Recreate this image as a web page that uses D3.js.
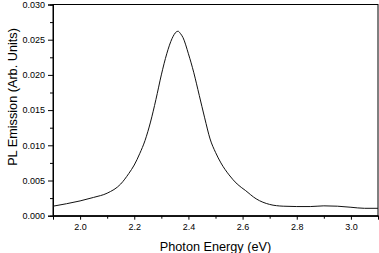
<!DOCTYPE html>
<html><head><meta charset="utf-8">
<script src="https://cdn.jsdelivr.net/npm/d3@7"></script>
<style>
html,body{margin:0;padding:0;background:#fff;}
svg{display:block;}
text{font-family:"Liberation Sans",Arial,sans-serif;fill:#000;}
</style></head><body>
<script>
const energy = [1.90,1.95,2.00,2.05,2.10,2.15,2.18,2.20,2.22,2.24,2.26,2.28,2.30,2.32,2.34,2.355,2.362,2.37,2.38,2.40,2.42,2.44,2.46,2.48,2.50,2.52,2.55,2.58,2.61,2.65,2.70,2.75,2.80,2.85,2.90,2.95,3.00,3.05,3.10];
const emission = [0.00135,0.0017,0.0021,0.0026,0.0032,0.0045,0.0060,0.0072,0.0088,0.0107,0.0133,0.0165,0.0200,0.0230,0.0252,0.0261,0.0262,0.0259,0.0253,0.0230,0.0203,0.0171,0.0139,0.0109,0.0090,0.0075,0.0058,0.0045,0.0036,0.0024,0.0016,0.00135,0.0013,0.0013,0.0014,0.00135,0.0012,0.00105,0.00105];
const xTicks = [2.0,2.2,2.4,2.6,2.8,3.0];
const xMinorTicks = [1.9,2.1,2.3,2.5,2.7,2.9,3.1];
const yTicks = [0.000,0.005,0.010,0.015,0.020,0.025,0.030];
const yMinorTicks = [0.0025,0.0075,0.0125,0.0175,0.0225,0.0275];
const xTitle = "Photon Energy (eV)";
const yTitle = "PL Emission (Arb. Units)";

const W = 379, H = 253;
const L = 53, R = 378, T = 4.5, B = 215.7;
const svg = d3.select("body").append("svg").attr("width", W).attr("height", H);
const x = d3.scaleLinear().domain([1.9, 3.1]).range([L, R]);
const y = d3.scaleLinear().domain([0, 0.03]).range([B, T]);

// frame
svg.append("rect").attr("x", L).attr("y", T).attr("width", R - L).attr("height", B - T)
  .attr("fill", "none").attr("stroke", "#000").attr("stroke-width", 1);

// x axis
const gx = svg.append("g").attr("transform", `translate(0,${B})`);
gx.call(d3.axisBottom(x).tickValues(xMinorTicks).tickSize(3).tickFormat(""));
gx.append("g").call(d3.axisBottom(x).tickValues(xTicks).tickSize(4).tickPadding(4).tickFormat(d3.format(".1f")));
gx.selectAll(".domain").attr("stroke", "#000");
gx.selectAll("text").style("font-size", "9px").attr("fill", "#000");

// y axis
const gy = svg.append("g").attr("transform", `translate(${L},0)`);
gy.call(d3.axisLeft(y).tickValues(yMinorTicks).tickSize(3).tickFormat(""));
gy.append("g").call(d3.axisLeft(y).tickValues(yTicks).tickSize(5).tickPadding(3).tickFormat(d3.format(".3f")));
gy.selectAll(".domain").attr("stroke", "#000");
gy.selectAll("text").style("font-size", "9px").attr("fill", "#000");

// curve
const data = energy.map((e, i) => [e, emission[i]]);
svg.append("path").datum(data)
  .attr("fill", "none").attr("stroke", "#111").attr("stroke-width", 1)
  .attr("d", d3.line().x(d => x(d[0])).y(d => y(d[1])).curve(d3.curveMonotoneX));

// titles
svg.append("text").attr("x", 215.5).attr("y", 251).attr("text-anchor", "middle")
  .style("font-size", "12.7px").text(xTitle);
svg.append("text").attr("transform", "translate(16.5,97) rotate(-90)").attr("text-anchor", "middle")
  .style("font-size", "12.7px").text(yTitle);
</script>
</body></html>
